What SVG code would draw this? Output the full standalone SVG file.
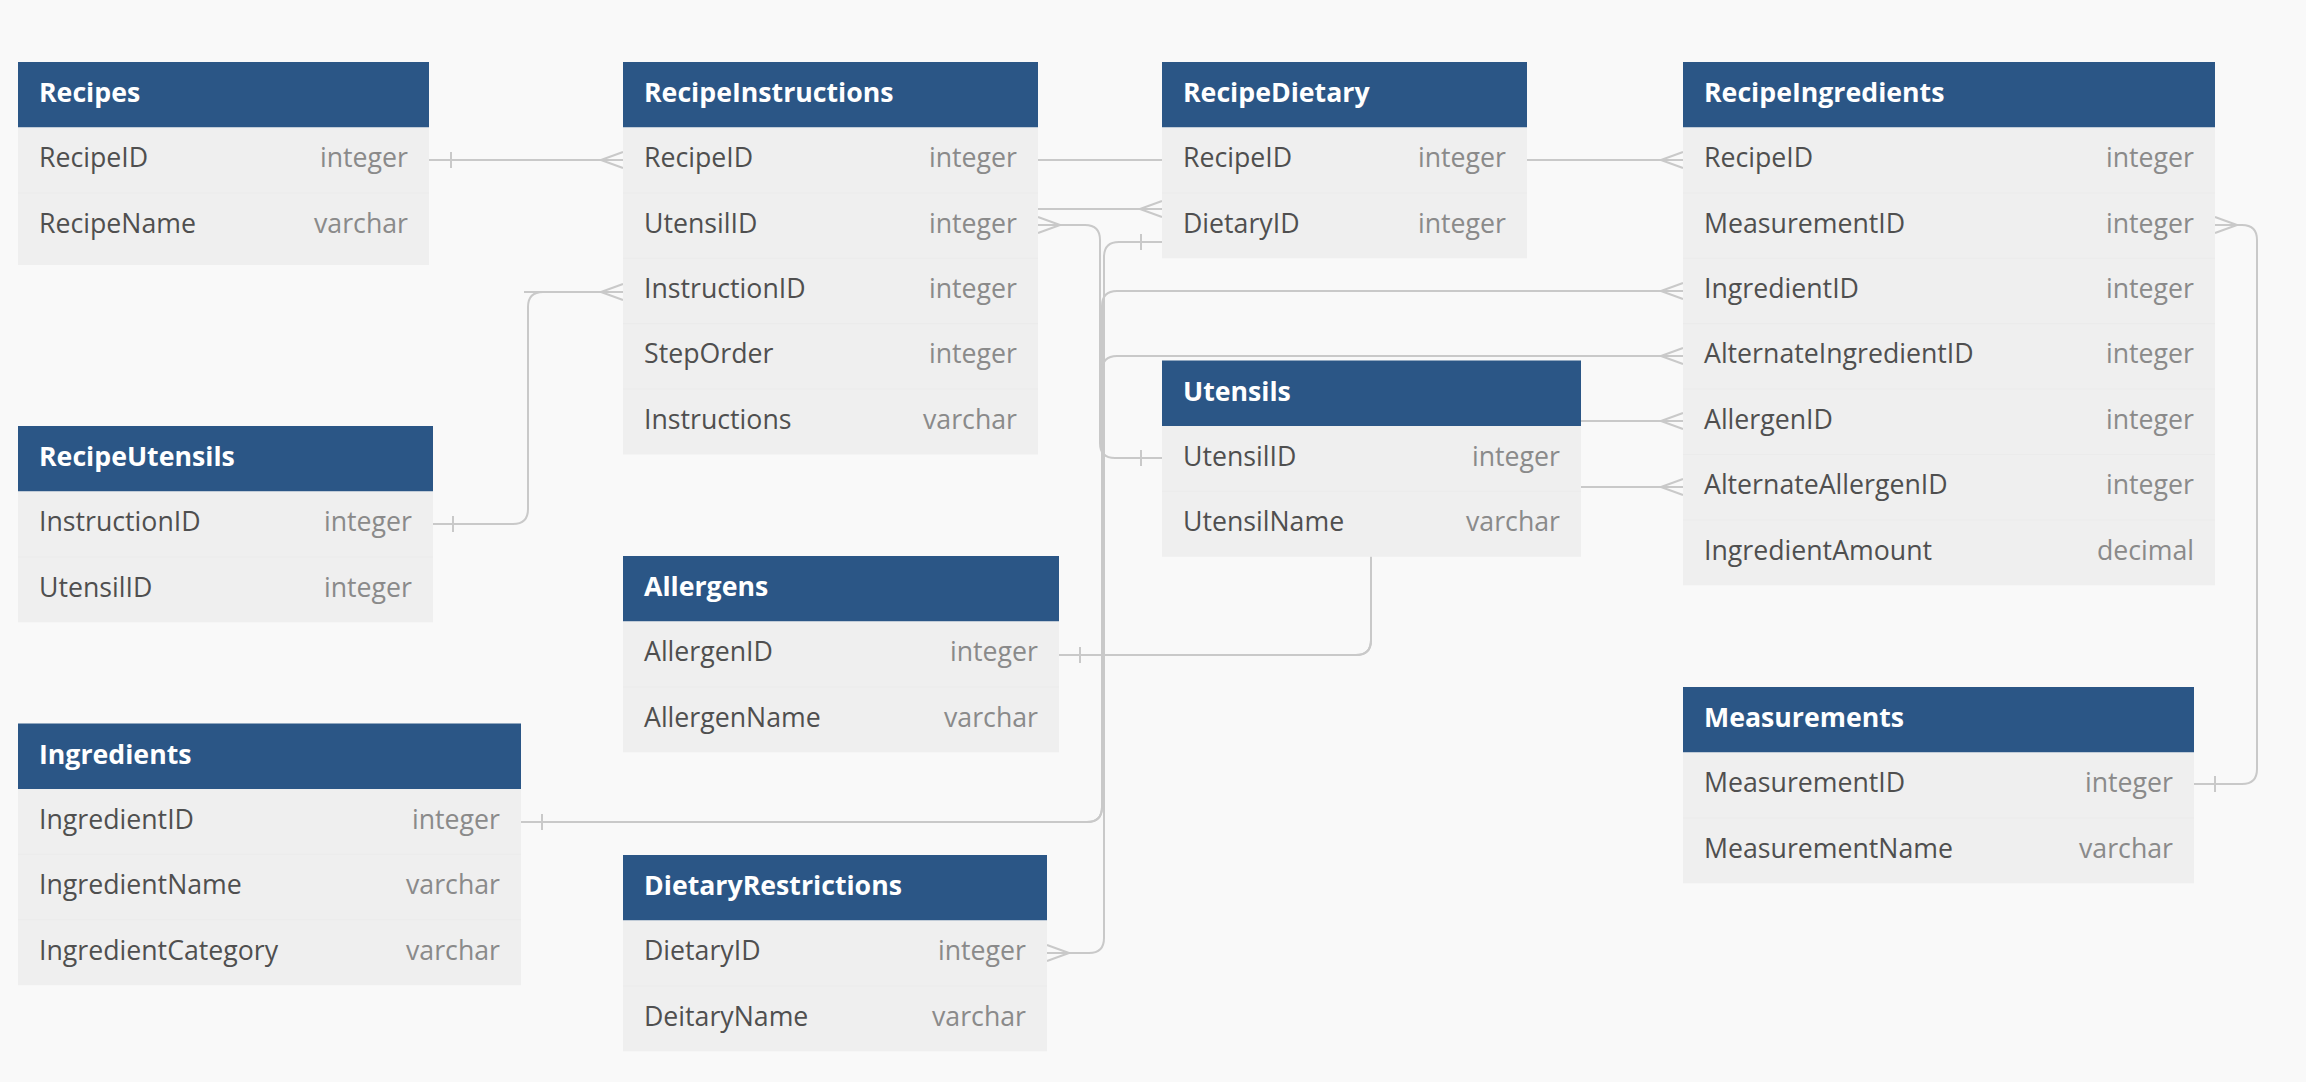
<svg xmlns="http://www.w3.org/2000/svg" xmlns:xlink="http://www.w3.org/1999/xlink" width="2306" height="1082" viewBox="0 0 2306 1082">
<defs>
<style>
.bg{fill:#f9f9f9}
.hdr{fill:#2b5686}
.body{fill:#efefef}
.sep{stroke:#ebebeb;stroke-width:1}
.title{font-family:"Open Sans","Noto Sans",sans-serif;font-weight:bold;font-size:26.7px;fill:#ffffff}
.fname{font-family:"Open Sans","Noto Sans",sans-serif;font-size:26.7px;fill:#4f4f4f}
.ftype{font-family:"Open Sans","Noto Sans",sans-serif;font-size:26.7px;fill:#8a8a8a;text-anchor:end}
.conn path,.conn use{stroke:#c9c9c9;stroke-width:2;fill:none}
</style>
<path id="crowL" d="M0,-8 L-22,0 M0,0 H-22 M0,8 L-22,0"/>
<path id="crowR" d="M0,-8 L22,0 M0,0 H22 M0,8 L22,0"/>
<path id="tick" d="M0,-8 V8"/>
</defs>
<rect class="bg" x="0" y="0" width="2306" height="1082"/>

<g id="connectors" class="conn">
<path d="M429,160 H1683"/>
<use href="#tick" x="451" y="160"/>
<use href="#crowL" x="623" y="160"/>
<use href="#crowL" x="1683" y="160"/>

<path d="M1038,209 H1162"/>
<use href="#crowL" x="1162" y="209"/>

<path d="M1038,225 H1085 Q1100,225 1100,240 V443 Q1100,458 1115,458 H1162"/>
<use href="#crowR" x="1038" y="225"/>
<use href="#tick" x="1141" y="458"/>

<path d="M1162,242 H1119 Q1104,242 1104,257 V938 Q1104,953 1089,953 H1047"/>
<use href="#tick" x="1141" y="242"/>
<use href="#crowR" x="1047" y="953"/>

<path d="M521,822 H1087 Q1102,822 1102,807 V306 Q1102,291 1117,291 H1683"/>
<path d="M521,822 H1087 Q1102,822 1102,807 V371 Q1102,356 1117,356 H1683"/>
<use href="#tick" x="542" y="822"/>
<use href="#crowL" x="1683" y="291"/>
<use href="#crowL" x="1683" y="356"/>

<path d="M1059,655 H1356 Q1371,655 1371,640 V436 Q1371,421 1386,421 H1683"/>
<path d="M1059,655 H1356 Q1371,655 1371,640 V502 Q1371,487 1386,487 H1683"/>
<use href="#tick" x="1080" y="655"/>
<use href="#crowL" x="1683" y="421"/>
<use href="#crowL" x="1683" y="487"/>

<path d="M433,524 H513 Q528,524 528,509 V307 Q528,292 543,292 H623"/>
<path d="M524,292 H543"/>
<use href="#tick" x="453" y="524"/>
<use href="#crowL" x="623" y="292"/>

<path d="M2215,225 H2242 Q2257,225 2257,240 V769 Q2257,784 2242,784 H2194"/>
<use href="#crowR" x="2215" y="225"/>
<use href="#tick" x="2215" y="784"/>
</g>

<g id="Recipes" transform="translate(18,62)">
<rect class="hdr" width="411" height="65.5"/>
<rect class="body" y="65.5" width="411" height="137.5"/>
<line class="sep" x1="0" y1="130.9" x2="411" y2="130.9"/>
<text class="title" x="21" y="40">Recipes</text>
<text class="fname" x="21" y="105.2">RecipeID</text><text class="ftype" x="390" y="105.2">integer</text>
<text class="fname" x="21" y="170.6">RecipeName</text><text class="ftype" x="390" y="170.6">varchar</text>
</g>

<g id="RecipeInstructions" transform="translate(623,62)">
<rect class="hdr" width="415" height="65.5"/>
<rect class="body" y="65.5" width="415" height="327"/>
<line class="sep" x1="0" y1="130.9" x2="415" y2="130.9"/>
<line class="sep" x1="0" y1="196.3" x2="415" y2="196.3"/>
<line class="sep" x1="0" y1="261.7" x2="415" y2="261.7"/>
<line class="sep" x1="0" y1="327.1" x2="415" y2="327.1"/>
<text class="title" x="21" y="40">RecipeInstructions</text>
<text class="fname" x="21" y="105.2">RecipeID</text><text class="ftype" x="394" y="105.2">integer</text>
<text class="fname" x="21" y="170.6">UtensilID</text><text class="ftype" x="394" y="170.6">integer</text>
<text class="fname" x="21" y="236">InstructionID</text><text class="ftype" x="394" y="236">integer</text>
<text class="fname" x="21" y="301.4">StepOrder</text><text class="ftype" x="394" y="301.4">integer</text>
<text class="fname" x="21" y="366.8">Instructions</text><text class="ftype" x="394" y="366.8">varchar</text>
</g>

<g id="RecipeDietary" transform="translate(1162,62)">
<rect class="hdr" width="365" height="65.5"/>
<rect class="body" y="65.5" width="365" height="130.8"/>
<line class="sep" x1="0" y1="130.9" x2="365" y2="130.9"/>
<text class="title" x="21" y="40">RecipeDietary</text>
<text class="fname" x="21" y="105.2">RecipeID</text><text class="ftype" x="344" y="105.2">integer</text>
<text class="fname" x="21" y="170.6">DietaryID</text><text class="ftype" x="344" y="170.6">integer</text>
</g>

<g id="RecipeIngredients" transform="translate(1683,62)">
<rect class="hdr" width="532" height="65.5"/>
<rect class="body" y="65.5" width="532" height="457.8"/>
<line class="sep" x1="0" y1="130.9" x2="532" y2="130.9"/>
<line class="sep" x1="0" y1="196.3" x2="532" y2="196.3"/>
<line class="sep" x1="0" y1="261.7" x2="532" y2="261.7"/>
<line class="sep" x1="0" y1="327.1" x2="532" y2="327.1"/>
<line class="sep" x1="0" y1="392.5" x2="532" y2="392.5"/>
<line class="sep" x1="0" y1="457.9" x2="532" y2="457.9"/>
<text class="title" x="21" y="40">RecipeIngredients</text>
<text class="fname" x="21" y="105.2">RecipeID</text><text class="ftype" x="511" y="105.2">integer</text>
<text class="fname" x="21" y="170.6">MeasurementID</text><text class="ftype" x="511" y="170.6">integer</text>
<text class="fname" x="21" y="236">IngredientID</text><text class="ftype" x="511" y="236">integer</text>
<text class="fname" x="21" y="301.4">AlternateIngredientID</text><text class="ftype" x="511" y="301.4">integer</text>
<text class="fname" x="21" y="366.8">AllergenID</text><text class="ftype" x="511" y="366.8">integer</text>
<text class="fname" x="21" y="432.2">AlternateAllergenID</text><text class="ftype" x="511" y="432.2">integer</text>
<text class="fname" x="21" y="497.6">IngredientAmount</text><text class="ftype" x="511" y="497.6">decimal</text>
</g>

<g id="RecipeUtensils" transform="translate(18,426)">
<rect class="hdr" width="415" height="65.5"/>
<rect class="body" y="65.5" width="415" height="130.8"/>
<line class="sep" x1="0" y1="130.9" x2="415" y2="130.9"/>
<text class="title" x="21" y="40">RecipeUtensils</text>
<text class="fname" x="21" y="105.2">InstructionID</text><text class="ftype" x="394" y="105.2">integer</text>
<text class="fname" x="21" y="170.6">UtensilID</text><text class="ftype" x="394" y="170.6">integer</text>
</g>

<g id="Utensils" transform="translate(1162,360.5)">
<rect class="hdr" width="419" height="65.5"/>
<rect class="body" y="65.5" width="419" height="130.8"/>
<line class="sep" x1="0" y1="130.9" x2="419" y2="130.9"/>
<text class="title" x="21" y="40">Utensils</text>
<text class="fname" x="21" y="105.2">UtensilID</text><text class="ftype" x="398" y="105.2">integer</text>
<text class="fname" x="21" y="170.6">UtensilName</text><text class="ftype" x="398" y="170.6">varchar</text>
</g>

<g id="Allergens" transform="translate(623,556)">
<rect class="hdr" width="436" height="65.5"/>
<rect class="body" y="65.5" width="436" height="130.8"/>
<line class="sep" x1="0" y1="130.9" x2="436" y2="130.9"/>
<text class="title" x="21" y="40">Allergens</text>
<text class="fname" x="21" y="105.2">AllergenID</text><text class="ftype" x="415" y="105.2">integer</text>
<text class="fname" x="21" y="170.6">AllergenName</text><text class="ftype" x="415" y="170.6">varchar</text>
</g>

<g id="Ingredients" transform="translate(18,723.5)">
<rect class="hdr" width="503" height="65.5"/>
<rect class="body" y="65.5" width="503" height="196.2"/>
<line class="sep" x1="0" y1="130.9" x2="503" y2="130.9"/>
<line class="sep" x1="0" y1="196.3" x2="503" y2="196.3"/>
<text class="title" x="21" y="40">Ingredients</text>
<text class="fname" x="21" y="105.2">IngredientID</text><text class="ftype" x="482" y="105.2">integer</text>
<text class="fname" x="21" y="170.6">IngredientName</text><text class="ftype" x="482" y="170.6">varchar</text>
<text class="fname" x="21" y="236">IngredientCategory</text><text class="ftype" x="482" y="236">varchar</text>
</g>

<g id="DietaryRestrictions" transform="translate(623,855)">
<rect class="hdr" width="424" height="65.5"/>
<rect class="body" y="65.5" width="424" height="130.8"/>
<line class="sep" x1="0" y1="130.9" x2="424" y2="130.9"/>
<text class="title" x="21" y="40">DietaryRestrictions</text>
<text class="fname" x="21" y="105.2">DietaryID</text><text class="ftype" x="403" y="105.2">integer</text>
<text class="fname" x="21" y="170.6">DeitaryName</text><text class="ftype" x="403" y="170.6">varchar</text>
</g>

<g id="Measurements" transform="translate(1683,687)">
<rect class="hdr" width="511" height="65.5"/>
<rect class="body" y="65.5" width="511" height="130.8"/>
<line class="sep" x1="0" y1="130.9" x2="511" y2="130.9"/>
<text class="title" x="21" y="40">Measurements</text>
<text class="fname" x="21" y="105.2">MeasurementID</text><text class="ftype" x="490" y="105.2">integer</text>
<text class="fname" x="21" y="170.6">MeasurementName</text><text class="ftype" x="490" y="170.6">varchar</text>
</g>
</svg>
